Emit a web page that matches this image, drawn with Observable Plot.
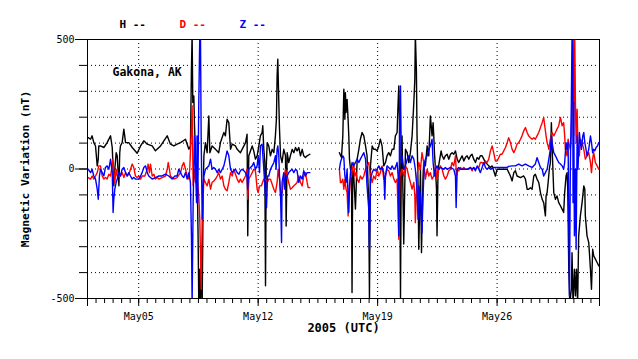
<!DOCTYPE html>
<html>
<head>
<meta charset="utf-8">
<script src="https://cdn.jsdelivr.net/npm/d3@7"></script>
<script src="https://cdn.jsdelivr.net/npm/@observablehq/plot@0.6"></script>
<style>
  html, body { margin: 0; padding: 0; background: #fff; }
  #chart svg { display: block; }
</style>
</head>
<body>
<div id="chart"></div>
<script>
// Time is given as fractional day of May 2005 (UTC); values in nT. null = data gap.
const seriesNames = ["H", "D", "Z"];
const seriesColors = ["#000000", "#ff0000", "#0000ff"];
const weekTicks = [5, 12, 19, 26];
const yLabelTicks = [-500, 0, 500];
const domainDays = [2, 32];

const hData = [[2.04,121],[2.18,115],[2.27,128],[2.37,102],[2.47,89],[2.57,12],[2.63,38],[2.66,89],[2.76,89],[2.96,83],[3.15,102],[3.35,128],[3.45,83],[3.54,-65],[3.60,-1],[3.68,63],[3.74,51],[3.84,-65],[3.89,63],[3.93,89],[4.03,102],[4.13,154],[4.23,102],[4.42,102],[4.62,83],[4.91,61],[5.11,89],[5.30,109],[5.50,96],[5.79,89],[5.98,70],[6.28,89],[6.67,128],[6.86,96],[7.06,89],[7.25,96],[7.45,102],[7.74,115],[7.94,76],[8.03,89],[8.09,385],[8.13,520],[8.17,257],[8.23,282],[8.27,167],[8.33,63],[8.39,-27],[8.42,-1],[8.48,-258],[8.52,-520],[8.58,-387],[8.62,-520],[8.68,-297],[8.72,-520],[8.78,-65],[8.82,51],[8.91,102],[9.01,63],[9.11,205],[9.17,63],[9.30,89],[9.50,76],[9.69,63],[9.79,102],[9.99,141],[10.08,128],[10.18,192],[10.28,179],[10.38,76],[10.48,96],[10.67,89],[10.77,76],[10.96,63],[11.06,76],[11.26,102],[11.35,134],[11.39,-258],[11.45,51],[11.65,89],[11.74,70],[11.84,38],[11.94,51],[12.04,89],[12.13,128],[12.23,141],[12.27,167],[12.33,76],[12.39,25],[12.43,-451],[12.47,-1],[12.53,102],[12.62,89],[12.72,51],[12.82,76],[12.92,63],[13.01,128],[13.07,192],[13.11,360],[13.15,424],[13.21,257],[13.25,154],[13.31,51],[13.40,25],[13.50,76],[13.60,51],[13.64,-220],[13.70,63],[13.79,25],[13.89,51],[13.99,76],[14.09,63],[14.19,83],[14.28,70],[14.38,83],[14.48,51],[14.58,76],[14.67,51],[14.77,44],[14.87,51],[15.03,57],[15.9,null],[16.76,63],[16.88,44],[16.96,128],[17.02,308],[17.08,192],[17.11,295],[17.15,218],[17.21,269],[17.27,192],[17.31,128],[17.35,38],[17.41,-1],[17.47,-27],[17.50,-477],[17.54,-1],[17.60,-27],[17.70,-155],[17.80,38],[17.90,76],[17.99,115],[18.09,141],[18.19,128],[18.29,89],[18.38,51],[18.48,-130],[18.52,-496],[18.58,12],[18.68,89],[18.77,76],[18.87,76],[18.97,70],[19.07,89],[19.16,115],[19.26,89],[19.36,12],[19.46,25],[19.55,51],[19.65,63],[19.75,51],[19.85,76],[19.95,76],[20.04,128],[20.14,141],[20.20,257],[20.24,321],[20.28,192],[20.34,-496],[20.39,89],[20.43,128],[20.53,-290],[20.63,76],[20.73,63],[20.82,25],[20.92,63],[21.02,128],[21.12,257],[21.18,347],[21.21,520],[21.27,385],[21.31,128],[21.37,-65],[21.41,-310],[21.51,-1],[21.57,-323],[21.66,-27],[21.70,25],[21.80,12],[21.90,89],[22.00,51],[22.09,205],[22.19,128],[22.25,179],[22.29,128],[22.33,63],[22.39,-1],[22.45,-78],[22.48,-258],[22.54,-1],[22.64,38],[22.72,70],[22.78,51],[22.88,38],[22.97,51],[23.07,57],[23.17,38],[23.27,57],[23.36,63],[23.46,57],[23.56,70],[23.66,38],[23.75,25],[23.85,38],[23.95,51],[24.05,31],[24.14,44],[24.24,51],[24.34,38],[24.44,51],[24.53,57],[24.63,38],[24.73,25],[24.83,44],[24.93,38],[25.02,51],[25.12,51],[25.22,38],[25.32,25],[25.41,19],[25.51,12],[25.61,6],[25.71,12],[25.80,-7],[25.90,-27],[26.00,-1],[26.19,-1],[26.39,-1],[26.59,-1],[26.78,-27],[26.88,-46],[26.98,-14],[27.07,-7],[27.17,-27],[27.37,-33],[27.56,-27],[27.66,-39],[27.76,-78],[27.85,-78],[27.95,-72],[28.05,-78],[28.15,-27],[28.24,-20],[28.34,-39],[28.44,-52],[28.54,-91],[28.64,-117],[28.73,-130],[28.83,-181],[28.87,-104],[28.93,-91],[28.99,-52],[29.06,-1],[29.12,25],[29.18,179],[29.22,89],[29.32,-91],[29.42,-117],[29.51,-104],[29.61,-130],[29.71,-142],[29.81,-155],[29.90,-168],[29.96,-91],[30.04,-27],[30.10,-14],[30.14,-78],[30.20,-387],[30.26,-520],[30.35,-464],[30.39,-323],[30.45,-520],[30.53,-387],[30.59,-490],[30.65,-387],[30.72,-520],[30.78,-258],[30.88,-181],[30.98,-130],[31.08,-65],[31.14,-78],[31.17,-181],[31.27,-258],[31.37,-284],[31.47,-387],[31.53,-464],[31.60,-310],[31.66,-335],[31.76,-348],[31.86,-361],[31.96,-374]];

const dData = [[2.04,-33],[2.18,-39],[2.27,-27],[2.37,-39],[2.47,-27],[2.57,-14],[2.66,12],[2.76,12],[2.86,-27],[2.96,-39],[3.05,-33],[3.15,-39],[3.25,-20],[3.35,-27],[3.41,-1],[3.48,38],[3.54,-1],[3.60,-52],[3.68,-1],[3.74,-27],[3.84,-27],[3.93,-27],[4.03,-14],[4.13,-33],[4.23,-14],[4.32,-27],[4.42,-20],[4.52,-1],[4.62,19],[4.71,6],[4.81,-27],[4.91,-33],[5.01,-27],[5.11,-39],[5.20,-27],[5.36,-27],[5.50,-1],[5.55,19],[5.63,-14],[5.69,19],[5.79,-27],[5.89,-20],[5.98,-39],[6.08,-33],[6.18,-39],[6.37,-33],[6.57,-27],[6.67,-1],[6.73,25],[6.80,-1],[6.86,-27],[6.96,-33],[7.06,-39],[7.25,-33],[7.45,-14],[7.55,12],[7.64,25],[7.74,-1],[7.84,-27],[7.94,-39],[7.99,-1],[8.07,128],[8.13,244],[8.19,-65],[8.27,-1],[8.33,-52],[8.42,-27],[8.52,-104],[8.58,-194],[8.66,-464],[8.72,-194],[8.82,-39],[8.91,-52],[9.01,-65],[9.11,-39],[9.21,-78],[9.30,-52],[9.40,-46],[9.50,-39],[9.60,-27],[9.69,-14],[9.79,-39],[9.89,-27],[9.99,-65],[10.08,-78],[10.18,-84],[10.28,-52],[10.38,-14],[10.48,-27],[10.57,-1],[10.67,-20],[10.77,-39],[10.87,-52],[10.96,-39],[11.06,-52],[11.16,-39],[11.26,-27],[11.35,-1],[11.39,-117],[11.45,-39],[11.55,-27],[11.65,-14],[11.74,-1],[11.84,-7],[11.94,-78],[12.00,-91],[12.08,-65],[12.19,-65],[12.33,-39],[12.43,-39],[12.53,-52],[12.62,-39],[12.72,-39],[12.82,-59],[12.92,-78],[13.01,-91],[13.11,-52],[13.17,-1],[13.25,-39],[13.31,-104],[13.40,-91],[13.50,-39],[13.60,-1],[13.70,-27],[13.79,-52],[13.89,-78],[13.99,-72],[14.09,-65],[14.19,-59],[14.28,-52],[14.38,-27],[14.48,-52],[14.58,-65],[14.67,-27],[14.77,-14],[14.87,-52],[14.93,-72],[15.03,-72],[15.9,null],[16.76,-1],[16.82,-52],[16.88,-52],[16.96,-39],[17.02,-78],[17.08,-39],[17.15,-78],[17.21,-91],[17.27,-181],[17.31,-130],[17.41,-39],[17.47,-27],[17.54,6],[17.60,25],[17.66,-27],[17.74,-14],[17.80,-39],[17.90,-52],[17.99,-27],[18.09,-39],[18.19,-27],[18.29,-1],[18.38,12],[18.48,25],[18.58,-27],[18.68,-52],[18.77,-27],[18.87,-39],[18.97,-1],[19.07,-27],[19.16,-14],[19.26,12],[19.36,-39],[19.46,-27],[19.55,-1],[19.65,-7],[19.75,-27],[19.85,-14],[19.95,-39],[20.04,-52],[20.14,-39],[20.24,-271],[20.30,-27],[20.43,-1],[20.53,-27],[20.63,12],[20.73,-1],[20.82,-27],[20.92,-52],[21.02,-78],[21.12,-52],[21.18,-104],[21.21,-207],[21.31,-27],[21.41,25],[21.51,-1],[21.60,63],[21.70,25],[21.80,-39],[21.90,-1],[22.00,-27],[22.09,-14],[22.19,-39],[22.29,-27],[22.39,12],[22.45,-27],[22.48,-39],[22.58,-1],[22.68,12],[22.78,-1],[22.88,-27],[22.97,-39],[23.07,-27],[23.17,-7],[23.27,-1],[23.36,25],[23.46,12],[23.56,51],[23.62,-27],[23.69,-1],[23.75,-7],[23.85,6],[23.95,-1],[24.05,6],[24.14,-1],[24.34,-1],[24.44,6],[24.53,-7],[24.63,6],[24.73,-1],[24.83,6],[24.93,6],[25.02,25],[25.12,25],[25.22,19],[25.32,31],[25.41,25],[25.51,38],[25.61,70],[25.71,89],[25.80,63],[25.90,31],[26.00,31],[26.10,44],[26.19,57],[26.29,57],[26.39,70],[26.49,83],[26.59,102],[26.68,121],[26.78,102],[26.88,76],[26.98,63],[27.07,76],[27.17,96],[27.27,102],[27.37,115],[27.46,128],[27.56,147],[27.66,160],[27.76,141],[27.85,128],[27.95,121],[28.05,115],[28.15,121],[28.24,115],[28.34,128],[28.44,141],[28.54,160],[28.64,179],[28.73,199],[28.79,167],[28.87,128],[28.93,102],[28.99,89],[29.03,76],[29.12,115],[29.22,141],[29.32,128],[29.42,141],[29.51,154],[29.61,167],[29.71,199],[29.81,167],[29.90,179],[29.96,128],[30.00,76],[30.10,51],[30.16,115],[30.24,89],[30.29,76],[30.35,128],[30.39,257],[30.45,520],[30.49,128],[30.55,520],[30.59,257],[30.63,102],[30.69,231],[30.74,63],[30.82,51],[30.88,115],[30.98,102],[31.08,76],[31.17,38],[31.27,51],[31.37,63],[31.47,25],[31.53,-14],[31.60,38],[31.66,63],[31.76,25],[31.86,12],[31.96,-1]];

const zData = [[2.04,-1],[2.18,-14],[2.27,-1],[2.37,-27],[2.47,-39],[2.57,-78],[2.63,-117],[2.70,-27],[2.76,-1],[2.86,-14],[2.96,-27],[3.05,6],[3.15,12],[3.25,-1],[3.35,38],[3.45,-14],[3.50,-168],[3.54,-117],[3.60,-78],[3.68,-52],[3.74,-39],[3.84,-14],[3.93,-27],[4.03,-1],[4.13,6],[4.23,-14],[4.32,-27],[4.42,-14],[4.52,-27],[4.62,-39],[4.71,-33],[4.81,-39],[5.01,-39],[5.11,-27],[5.20,-14],[5.30,6],[5.40,12],[5.50,-14],[5.59,-27],[5.69,-33],[5.79,-39],[5.98,-33],[6.18,-27],[6.37,-27],[6.57,-20],[6.76,-27],[6.96,-39],[7.12,-27],[7.25,-27],[7.35,-1],[7.45,-14],[7.55,-27],[7.64,-33],[7.74,-14],[7.84,-39],[7.94,-14],[8.03,-52],[8.09,-258],[8.13,-520],[8.19,-130],[8.27,128],[8.33,-1],[8.39,-130],[8.42,128],[8.46,-130],[8.52,257],[8.58,520],[8.62,520],[8.66,128],[8.72,-194],[8.78,-65],[8.82,-27],[8.91,-1],[9.01,6],[9.11,12],[9.21,38],[9.30,-1],[9.40,6],[9.50,-1],[9.60,-14],[9.69,-1],[9.79,-14],[9.89,-1],[9.99,12],[10.08,38],[10.18,70],[10.28,51],[10.38,-1],[10.48,-14],[10.57,-7],[10.67,-1],[10.77,-14],[10.87,-20],[10.96,-7],[11.06,-1],[11.16,-7],[11.26,-14],[11.35,-27],[11.39,-78],[11.45,-1],[11.55,6],[11.65,12],[11.74,25],[11.84,-1],[11.94,12],[12.00,51],[12.08,-14],[12.13,89],[12.23,96],[12.33,-1],[12.43,-104],[12.49,-150],[12.55,-27],[12.62,-27],[12.72,-1],[12.82,12],[12.92,25],[13.01,51],[13.05,-1],[13.11,76],[13.15,89],[13.21,51],[13.25,-27],[13.31,-91],[13.37,-284],[13.40,-52],[13.50,-14],[13.56,-78],[13.60,-39],[13.64,-39],[13.70,-27],[13.79,-14],[13.89,-7],[13.99,-1],[14.09,-14],[14.19,-1],[14.28,-7],[14.38,-52],[14.48,-27],[14.58,-39],[14.67,-7],[14.77,-27],[14.87,-14],[15.03,-14],[15.9,null],[16.76,-1],[16.82,25],[16.88,38],[16.96,51],[17.02,44],[17.08,-27],[17.15,-52],[17.21,-1],[17.27,-104],[17.31,-168],[17.35,-65],[17.41,-14],[17.50,25],[17.60,12],[17.70,25],[17.80,38],[17.90,25],[17.99,38],[18.09,51],[18.19,63],[18.29,38],[18.38,-65],[18.48,-155],[18.52,-310],[18.58,-39],[18.68,-14],[18.77,-1],[18.87,-7],[18.97,-1],[19.07,12],[19.16,-1],[19.26,6],[19.36,-14],[19.42,-117],[19.46,-27],[19.55,12],[19.65,6],[19.75,-1],[19.85,12],[19.95,-1],[20.04,6],[20.14,25],[20.20,-27],[20.24,-258],[20.30,257],[20.34,321],[20.39,25],[20.43,51],[20.53,-1],[20.63,12],[20.73,38],[20.82,51],[20.92,25],[21.02,51],[21.12,38],[21.21,-1],[21.31,-78],[21.37,-194],[21.41,-65],[21.51,-104],[21.60,-245],[21.66,-104],[21.74,25],[21.80,38],[21.90,51],[22.00,76],[22.09,89],[22.19,115],[22.25,25],[22.33,-27],[22.39,-1],[22.48,12],[22.58,-1],[22.68,6],[22.88,-1],[22.97,6],[23.07,-1],[23.27,6],[23.46,-1],[23.56,-27],[23.60,-149],[23.66,-1],[23.75,6],[23.85,-1],[24.05,-1],[24.24,-1],[24.44,6],[24.53,-1],[24.63,6],[24.73,-7],[24.83,12],[24.93,-1],[25.02,-14],[25.12,6],[25.22,25],[25.32,6],[25.41,-1],[25.51,6],[25.61,-1],[25.80,6],[26.19,6],[26.59,6],[26.68,10],[26.88,12],[27.07,12],[27.27,19],[27.46,12],[27.66,19],[27.85,12],[28.05,6],[28.24,19],[28.34,44],[28.44,25],[28.54,6],[28.64,-1],[28.73,-27],[28.83,-14],[28.93,-1],[29.03,38],[29.12,76],[29.18,128],[29.22,102],[29.32,63],[29.42,51],[29.51,38],[29.61,25],[29.71,19],[29.81,12],[29.90,-1],[29.96,25],[30.04,102],[30.10,76],[30.16,102],[30.24,-490],[30.29,-1],[30.35,257],[30.39,520],[30.43,520],[30.45,-130],[30.49,257],[30.53,-258],[30.59,-1],[30.63,-310],[30.69,128],[30.74,-1],[30.82,141],[30.88,102],[30.94,76],[31.02,128],[31.08,141],[31.14,102],[31.21,76],[31.27,51],[31.37,76],[31.47,128],[31.53,102],[31.60,63],[31.66,76],[31.72,70],[31.80,83],[31.88,89],[31.96,102]];

const toDate = d => new Date(Date.UTC(2005, 4, 1) + (d - 1) * 864e5);
const rows = arr => arr.map(([d, v]) => ({date: toDate(d), value: v}));
const series = [hData, dData, zData].map(rows);

const xDomain = domainDays.map(toDate);
const weeks = weekTicks.map(toDate);
const halfDays = d3.utcHour.every(12).range(xDomain[0], new Date(+xDomain[1] + 1));

const mono = "'DejaVu Sans Mono', 'Liberation Mono', monospace";
const grid = {stroke: "black", strokeOpacity: 1, strokeWidth: 1, strokeDasharray: "1,3"};

const chart = Plot.plot({
  width: 638,
  height: 359,
  marginLeft: 87,
  marginRight: 39,
  marginTop: 39,
  marginBottom: 61,
  style: {fontFamily: mono, fontSize: "10px", background: "white", color: "black"},
  x: {type: "utc", domain: xDomain},
  y: {domain: [-500, 500]},
  marks: [
    Plot.gridY(d3.range(-400, 401, 100), grid),
    Plot.gridX(weeks, grid),
    ...series.map((s, i) => Plot.line(s, {x: "date", y: "value", stroke: seriesColors[i], strokeWidth: 1.4, clip: true})),
    Plot.frame({stroke: "black", strokeWidth: 1}),
    Plot.axisY(d3.range(-500, 501, 100), {anchor: "left", tickSize: 8, tickFormat: () => "", label: null}),
    Plot.axisY(yLabelTicks, {anchor: "left", tickSize: 12, tickPadding: 1, tickFormat: d => String(d), label: null, fontSize: 10}),
    Plot.axisX(halfDays, {anchor: "bottom", tickSize: 5, tickFormat: () => "", label: null}),
    Plot.axisX([xDomain[0], ...weeks, xDomain[1]], {anchor: "bottom", tickSize: 8, tickPadding: 6, tickFormat: d => (weekTicks.includes(d.getUTCDate()) && d.getUTCMonth() === 4) ? d3.utcFormat("%b%d")(d) : "", label: null, fontSize: 10}),
    Plot.text(["Gakona, AK"], {text: d => d, frameAnchor: "top-left", dx: 25, dy: 33, textAnchor: "start", lineAnchor: "middle", fontWeight: "bold", fontSize: 11.5, fill: "black"}),
    Plot.text(["2005 (UTC)"], {text: d => d, frameAnchor: "bottom", dy: 30, textAnchor: "middle", lineAnchor: "middle", fontWeight: "bold", fontSize: 12, fill: "black"}),
    Plot.text(["Magnetic Variation (nT)"], {text: d => d, frameAnchor: "left", dx: -62, rotate: -90, textAnchor: "middle", lineAnchor: "middle", fontWeight: "bold", fontSize: 11.3, fill: "black"}),
    ...seriesNames.map((n, i) => Plot.text([n + " --"], {text: d => d, frameAnchor: "top-left", dx: 32 + 60 * i, dy: -15, textAnchor: "start", lineAnchor: "middle", fontWeight: "bold", fontSize: 11, fill: seriesColors[i]}))
  ]
});
document.getElementById("chart").appendChild(chart);
</script>
</body>
</html>
